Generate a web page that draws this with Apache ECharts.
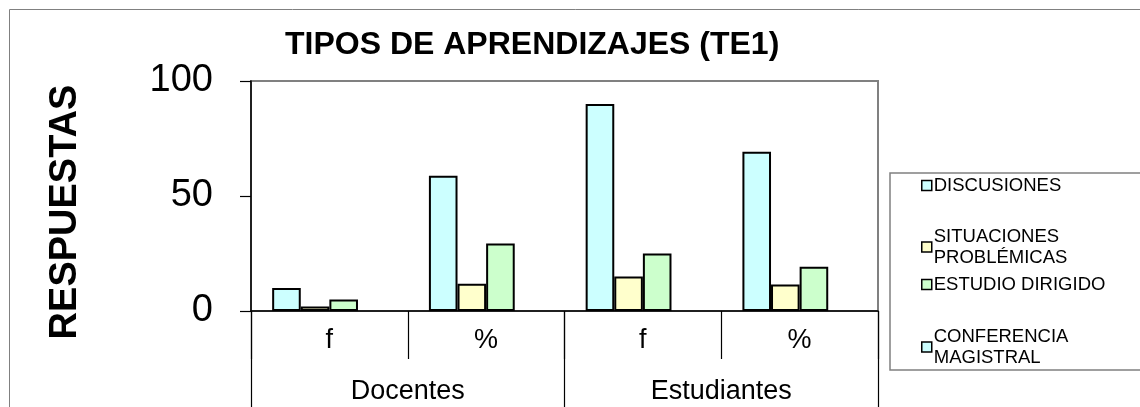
<!DOCTYPE html>
<html>
<head>
<meta charset="utf-8">
<script src="https://cdn.jsdelivr.net/npm/echarts@6/dist/echarts.min.js"></script>
<style>
  html, body { margin: 0; padding: 0; background: #fff; }
  #chart { width: 1140px; height: 407px; }
</style>
</head>
<body>
<div id="chart"></div>
<script>
// subgroups on the inner axis, groups on the outer axis
const subCategories = ['f', '%', 'f', '%'];
const groups = ['Docentes', 'Estudiantes'];
const yTicks = [0, 50, 100];

// values
const discusiones = [10, 58.8, 90, 69.2];
const situaciones = [2, 11.8, 15, 11.5];
const estudio = [5, 29.4, 25, 19.2];
const conferencia = [null, null, null, null];

const seriesNames = ['DISCUSIONES', 'SITUACIONES\nPROBLÉMICAS', 'ESTUDIO DIRIGIDO', 'CONFERENCIA\nMAGISTRAL'];
const seriesColors = ['#CCFFFF', '#FFFFCC', '#CCFFCC', '#CCFFFF'];
const legendTops = [175, 226, 274, 326];

const font = 'Liberation Sans, Arial, sans-serif';
const chart = echarts.init(document.getElementById('chart'));

function bar(name, data, color) {
  return {
    name: name,
    type: 'bar',
    data: data,
    barGap: '0%',
    barCategoryGap: '27%',
    itemStyle: { color: color, borderColor: '#000', borderWidth: 2 }
  };
}

// one legend per item so each can sit where the original has it
const legends = seriesNames.map(function (n, i) {
  return {
    data: [n],
    left: 921,
    top: legendTops[i],
    orient: 'vertical',
    itemWidth: 10,
    itemHeight: 10,
    itemGap: 0,
    padding: 0,
    icon: 'rect',
    itemStyle: { borderColor: '#000', borderWidth: 1.5 },
    textStyle: { fontFamily: font, fontSize: 18.5, color: '#000', lineHeight: 21, padding: [0, 0, 0, -3] },
    selectedMode: false
  };
});

chart.setOption({
  animation: false,
  backgroundColor: '#fff',
  title: {
    text: 'TIPOS DE APRENDIZAJES (TE1)',
    left: 280,
    top: 24,
    textStyle: { fontFamily: font, fontSize: 32, fontWeight: 'bold', color: '#000' }
  },
  legend: legends,
  graphic: [
    {
      type: 'rect',
      shape: { x: 9.5, y: 9.5, width: 1140, height: 420 },
      style: { fill: 'none', stroke: '#808080', lineWidth: 1 },
      silent: true
    },
    {
      type: 'rect',
      shape: { x: 890, y: 173, width: 260, height: 197 },
      style: { fill: 'none', stroke: '#808080', lineWidth: 1.5 },
      silent: true
    },
    {
      // y axis title
      type: 'text',
      x: 66,
      y: 212,
      rotation: Math.PI / 2,
      style: {
        text: 'RESPUESTAS',
        fontFamily: font,
        fontSize: 38,
        fontWeight: 'bold',
        fill: '#000',
        align: 'center',
        verticalAlign: 'middle'
      },
      silent: true
    }
  ],
  grid: {
    left: 251,
    top: 81,
    width: 627,
    height: 230,
    show: true,
    borderColor: '#808080',
    borderWidth: 2,
    containLabel: false
  },
  xAxis: [
    {
      type: 'category',
      data: subCategories,
      position: 'bottom',
      axisLine: { lineStyle: { color: '#000', width: 1.5 } },
      axisTick: { show: true, length: 48, interval: 0, lineStyle: { color: '#000', width: 1.2 } },
      axisLabel: { interval: 0, margin: 16, fontFamily: font, fontSize: 27, color: '#000' }
    },
    {
      type: 'category',
      data: groups,
      position: 'bottom',
      offset: 0,
      axisLine: { show: false },
      axisTick: { show: true, length: 100, interval: 0, lineStyle: { color: '#000', width: 1.2 } },
      axisLabel: { interval: 0, margin: 67, fontFamily: font, fontSize: 27, color: '#000' }
    }
  ],
  yAxis: {
    type: 'value',
    min: yTicks[0],
    max: yTicks[yTicks.length - 1],
    interval: yTicks[1] - yTicks[0],
    axisLine: { show: true, lineStyle: { color: '#000', width: 1.5 } },
    axisTick: { show: true, length: 11, lineStyle: { color: '#000', width: 1.2 } },
    axisLabel: { margin: 38, fontFamily: font, fontSize: 38, color: '#000' },
    splitLine: { show: false }
  },
  series: [
    bar(seriesNames[0], discusiones, seriesColors[0]),
    bar(seriesNames[1], situaciones, seriesColors[1]),
    bar(seriesNames[2], estudio, seriesColors[2]),
    bar(seriesNames[3], conferencia, seriesColors[3])
  ]
});
</script>
</body>
</html>
